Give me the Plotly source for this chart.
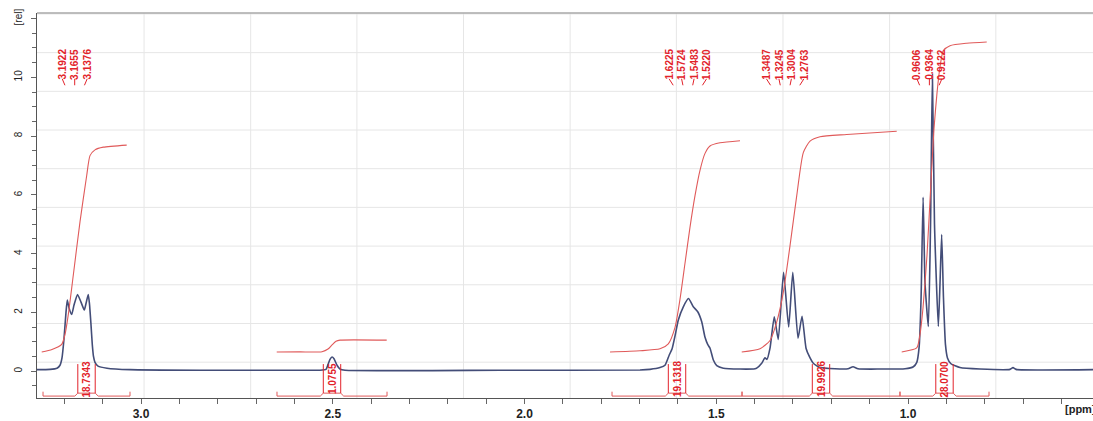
import numpy as np
import plotly.graph_objects as go

# ---- 1H spectrum trace: chemical shift (ppm) and intensity (rel) ----
spec_ppm = [3.2712, 3.2373, 3.2190, 3.2112, 3.2060, 3.2008, 3.1956, 3.1922, 3.1877, 3.1807,
            3.1747, 3.1655, 3.1565, 3.1479, 3.1434, 3.1376, 3.1344, 3.1305, 3.1270, 3.1239,
            3.1200, 3.1121, 3.0887, 3.0287, 2.8461, 2.5854, 2.5332, 2.5176, 2.5124, 2.5072,
            2.5019, 2.4967, 2.4889, 2.4811, 2.4680, 2.0639, 1.6988, 1.6727, 1.6467, 1.6337,
            1.6225, 1.6154, 1.6075, 1.5989, 1.5859, 1.5724, 1.5598, 1.5483, 1.5379, 1.5293,
            1.5220, 1.5162, 1.5076, 1.4987, 1.4815, 1.4380, 1.3989, 1.3946, 1.3815, 1.3729,
            1.3677, 1.3598, 1.3487, 1.3383, 1.3245, 1.3112, 1.3004, 1.2868, 1.2763, 1.2659,
            1.2573, 1.2469, 1.2294, 1.1903, 1.1564, 1.1434, 1.1304, 1.0730, 1.0078, 0.9860,
            0.9771, 0.9711, 0.9659, 0.9606, 0.9556, 0.9470, 0.9412, 0.9364, 0.9309, 0.9209,
            0.9165, 0.9122, 0.9075, 0.9023, 0.8971, 0.8880, 0.8645, 0.8123, 0.7341, 0.7262,
            0.7184, 0.5176]
spec_int = [0.05, 0.06, 0.10, 0.20, 0.45, 1.10, 2.00, 2.42, 2.15, 1.93,
            2.25, 2.61, 2.35, 2.08, 2.30, 2.61, 2.30, 1.60, 0.90, 0.50,
            0.30, 0.17, 0.10, 0.05, 0.03, 0.03, 0.03, 0.06, 0.22, 0.40,
            0.48, 0.42, 0.20, 0.07, 0.03, 0.03, 0.04, 0.06, 0.12, 0.20,
            0.55, 0.75, 1.20, 1.74, 2.19, 2.47, 2.19, 2.02, 1.68, 1.15,
            0.90, 0.78, 0.38, 0.19, 0.10, 0.07, 0.08, 0.10, 0.27, 0.45,
            0.40, 0.78, 1.85, 1.08, 3.36, 1.50, 3.36, 1.12, 1.87, 0.78,
            0.50, 0.27, 0.12, 0.08, 0.08, 0.15, 0.08, 0.07, 0.08, 0.15,
            0.30, 0.80, 2.50, 5.92, 3.00, 1.52, 5.00, 10.10, 5.00, 1.52,
            3.00, 4.65, 2.50, 0.90, 0.45, 0.25, 0.12, 0.07, 0.06, 0.12,
            0.06, 0.05]

# ---- picked peaks (ppm), one list per multiplet ----
peak_groups = [
    [3.1922, 3.1655, 3.1376],
    [1.6225, 1.5724, 1.5483, 1.5220],
    [1.3487, 1.3245, 1.3004, 1.2763],
    [0.9606, 0.9364, 0.9122],
]

# ---- integrals: value, region (ppm) and running-integral shape (fraction of total) ----
integral_values = [18.7343, 1.0755, 19.1318, 19.9926, 28.0700]
integral_ranges = [(3.2555, 3.0287), (2.6454, 2.3585), (1.7718, 1.4328),
                   (1.4328, 1.0209), (1.0209, 0.7888)]
integral_ppm = [
    [3.2589, 3.2321, 3.2068, 3.1982, 3.1896, 3.1765, 3.1591, 3.1416, 3.1330, 3.1200, 3.0983, 3.0373],
    [2.6461, 2.5854, 2.5280, 2.5124, 2.5019, 2.4915, 2.4811, 2.3593],
    [1.7770, 1.6988, 1.6467, 1.6250, 1.6075, 1.5945, 1.5815, 1.5685, 1.5554, 1.5424, 1.5293, 1.5163, 1.4902, 1.4380],
    [1.4336, 1.3859, 1.3598, 1.3424, 1.3252, 1.3077, 1.2902, 1.2730, 1.2555, 1.2294, 1.1598, 1.0294],
    [1.0164, 0.9773, 0.9687, 0.9609, 0.9504, 0.9400, 0.9322, 0.9244, 0.9165, 0.9079, 0.8904, 0.8469, 0.7947],
]
integral_frac = [
    [0.0, 0.012, 0.037, 0.085, 0.181, 0.372, 0.629, 0.853, 0.949, 0.977, 0.990, 1.0],
    [0.0, 0.01, 0.03, 0.25, 0.60, 0.90, 1.0, 1.0],
    [0.0, 0.006, 0.015, 0.039, 0.117, 0.25, 0.42, 0.59, 0.74, 0.86, 0.94, 0.975, 0.99, 1.0],
    [0.0, 0.015, 0.052, 0.135, 0.270, 0.481, 0.707, 0.903, 0.955, 0.975, 0.985, 1.0],
    [0.0, 0.013, 0.057, 0.142, 0.313, 0.55, 0.72, 0.835, 0.92, 0.972, 0.988, 0.996, 1.0],
]

x_ticks = [3.0, 2.5, 2.0, 1.5, 1.0]
y_ticks = [0, 2, 4, 6, 8, 10, 12]
y_ticktext = ["0", "2", "4", "6", "8", "10", "[rel]"]

# ---- display settings ----
X_RANGE = [3.2712, 0.5176]
Y_RANGE = [-0.915, 12.19]
PX = 1.0 / 383.5            # ppm per pixel along x
INT_BASE = 0.65             # level where integral curves start
INT_SCALE = 0.376           # plot units per integral unit
RED = "#e2232b"
INT_RED = "#e05a5a"
SPEC = "#434d78"
GRID = "#e6e6e6"
LABEL_FONT = "Liberation Sans Narrow, Arial Narrow, Liberation Sans, Arial"

fig = go.Figure()

# spectrum
fig.add_trace(go.Scatter(x=spec_ppm, y=spec_int, mode="lines",
                         line=dict(color=SPEC, width=1.6, shape="spline", smoothing=0.5),
                         hoverinfo="skip", showlegend=False))

# integral curves
for val, xs, fr in zip(integral_values, integral_ppm, integral_frac):
    ys = [INT_BASE + INT_SCALE * val * f for f in fr]
    fig.add_trace(go.Scatter(x=xs, y=ys, mode="lines",
                             line=dict(color=INT_RED, width=1.1, shape="spline", smoothing=0.6),
                             hoverinfo="skip", showlegend=False))

shapes = []
annotations = []

# background grid
for gx in [2.992, 2.714, 2.437, 2.159, 1.881, 1.604, 1.326, 1.048, 0.771]:
    shapes.append(dict(type="line", xref="x", yref="paper", x0=gx, x1=gx, y0=0, y1=1,
                       line=dict(color=GRID, width=1), layer="below"))
for gy in [0.305, 1.622, 2.939, 4.256, 5.573, 6.890, 8.207, 9.524, 10.841, 12.158]:
    shapes.append(dict(type="line", xref="paper", yref="y", x0=0, x1=1, y0=gy, y1=gy,
                       line=dict(color=GRID, width=1), layer="below"))

# top frame line
shapes.append(dict(type="line", xref="paper", yref="paper", x0=0, x1=1, y0=1, y1=1,
                   line=dict(color="#a8a8a8", width=1.5)))

# peak labels with short leaders
label_gap = 12.5 * PX
for grp in peak_groups:
    centre = np.mean(grp) + 3 * PX
    n = len(grp)
    for i, p in enumerate(grp):
        lx = centre + (i - (n - 1) / 2) * (-label_gap)
        annotations.append(dict(x=lx, y=10.44, xref="x", yref="y", text=f"<b>{p:.4f}</b>",
                                textangle=-90, showarrow=False, xanchor="center", yanchor="middle",
                                font=dict(family=LABEL_FONT, size=10, color=RED)))
        bx = lx - (lx - centre) * 0.22
        shapes.append(dict(type="line", xref="x", yref="y", x0=lx, y0=9.95, x1=bx, y1=9.73,
                           line=dict(color=RED, width=1)))

# integral brackets and values
half = 8.7 * PX
slope = 3 * PX
y_bar, y_end, y_mid, y_top = -0.85, -0.70, -0.75, 0.24
for val, (a, b) in zip(integral_values, integral_ranges):
    m = (a + b) / 2
    path = (f"M {a},{y_end} L {a},{y_bar} L {m + half + slope},{y_bar} L {m + half},{y_mid} "
            f"L {m - half},{y_mid} L {m - half - slope},{y_bar} L {b},{y_bar} L {b},{y_end}")
    shapes.append(dict(type="path", xref="x", yref="y", path=path,
                       line=dict(color=INT_RED, width=1)))
    for xv in (m + half, m - half):
        shapes.append(dict(type="line", xref="x", yref="y", x0=xv, x1=xv, y0=y_mid, y1=y_top,
                           line=dict(color=RED, width=1)))
    annotations.append(dict(x=m, y=-0.27, xref="x", yref="y", text=f"<b>{val:.4f}</b>",
                            textangle=-90, showarrow=False, xanchor="center", yanchor="middle",
                            font=dict(family=LABEL_FONT, size=10, color=RED)))

# axis unit label
annotations.append(dict(x=0.9716, y=-0.028, xref="paper", yref="paper", text="<b>[ppm]</b>",
                        showarrow=False, xanchor="left", yanchor="middle",
                        font=dict(family="Liberation Sans, Arial", size=11, color="#222")))

minor_x = [round(v, 1) for v in np.arange(3.2, 0.55, -0.1)]
minor_y = [round(v, 1) for v in np.arange(-0.5, 12.01, 0.5)]

fig.update_layout(
    width=1093, height=421,
    margin=dict(l=37, r=0, t=13, b=21),
    paper_bgcolor="white", plot_bgcolor="white",
    showlegend=False,
    shapes=shapes, annotations=annotations,
    xaxis=dict(range=X_RANGE, tickmode="array", tickvals=x_ticks,
               ticktext=[f"<b>{t:.1f}</b>" for t in x_ticks],
               ticks="outside", ticklen=5, tickcolor="#666", tickwidth=1,
               showline=True, linecolor="#555", linewidth=1,
               showgrid=False, zeroline=False,
               tickfont=dict(family="Liberation Sans, Arial", size=12, color="#222"),
               minor=dict(tickmode="array", tickvals=minor_x, ticks="outside", ticklen=5,
                          tickcolor="#666", showgrid=False)),
    yaxis=dict(range=Y_RANGE, tickmode="array", tickvals=y_ticks, ticktext=y_ticktext,
               tickangle=-90, ticks="outside", ticklen=5, tickcolor="#666", tickwidth=1,
               ticklabelstandoff=5,
               showline=True, linecolor="#555", linewidth=1,
               showgrid=False, zeroline=False,
               tickfont=dict(family="Liberation Sans, Arial", size=10, color="#222"),
               minor=dict(tickmode="array", tickvals=minor_y, ticks="outside", ticklen=4,
                          tickcolor="#666", showgrid=False)),
)

fig.write_html("out.html")
